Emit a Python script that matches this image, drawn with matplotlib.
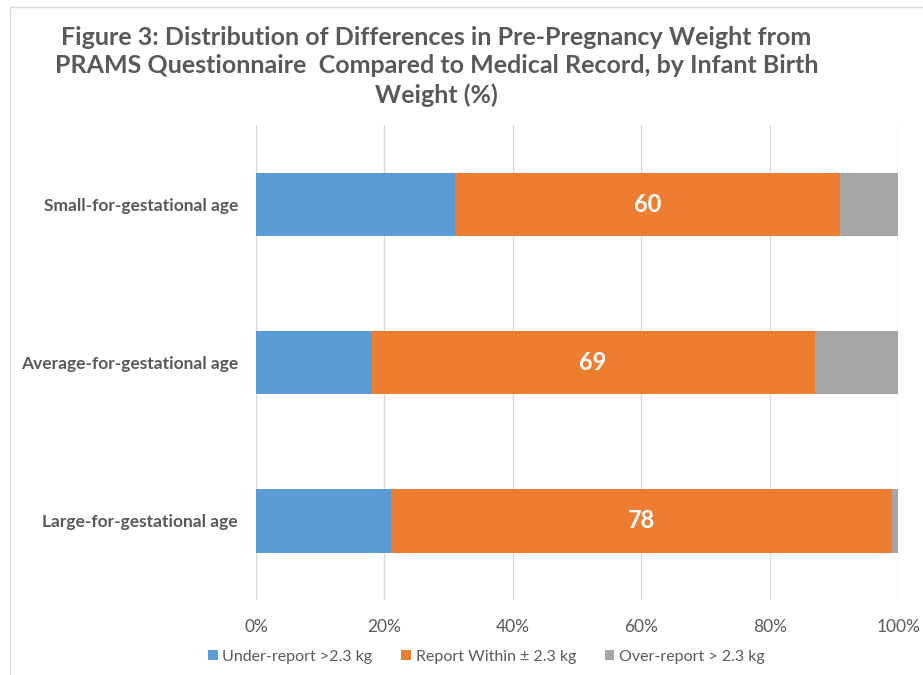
import matplotlib.pyplot as plt
from matplotlib.lines import Line2D

# Dados: distribuição (%) por peso ao nascer
categorias = ['Small-for-gestational age', 'Average-for-gestational age', 'Large-for-gestational age']
sub_relato = [31, 18, 21]
dentro = [60, 69, 78]
super_relato = [9, 13, 1]
series = ['Under-report >2.3 kg', 'Report Within \u00b1 2.3 kg', 'Over-report > 2.3 kg']
cores = ['#5B9BD5', '#ED7D31', '#A5A5A5']
ticks_x = [0, 20, 40, 60, 80, 100]

plt.rcParams['font.family'] = ['Lato', 'DejaVu Sans']
cinza = '#595959'

fig = plt.figure(figsize=(9.23, 6.75), dpi=100)
ax = fig.add_axes([0.2774, 0.1111, 0.6956, 0.7037])

y = range(len(categorias))
ax.barh(y, sub_relato, height=0.4, color=cores[0], label=series[0], zorder=3)
ax.barh(y, dentro, left=sub_relato, height=0.4, color=cores[1], label=series[1], zorder=3)
esq = [a + b for a, b in zip(sub_relato, dentro)]
ax.barh(y, super_relato, left=esq, height=0.4, color=cores[2], label=series[2], zorder=3)

# valor no meio da barra laranja
for i, v in enumerate(dentro):
    ax.text(sub_relato[i] + v / 2, i, str(v), ha='center', va='center',
            color='white', fontsize=17, fontweight='bold', zorder=4)

ax.set_xlim(0, 100)
ax.set_ylim(2.5, -0.5)
ax.set_xticks(ticks_x)
ax.set_xticklabels([f'{t}%' for t in ticks_x], fontsize=12.5, color=cinza)
ax.set_yticks(list(y))
ax.set_yticklabels(categorias, fontsize=12.5, fontweight='bold', color=cinza)
ax.tick_params(axis='both', length=0)
ax.tick_params(axis='y', pad=13)
ax.tick_params(axis='x', pad=14)
ax.grid(axis='x', color='#D9D9D9', linewidth=1, zorder=0)
for s in ax.spines.values():
    s.set_visible(False)

fig.suptitle('Figure 3: Distribution of Differences in Pre-Pregnancy Weight from\n'
             'PRAMS Questionnaire  Compared to Medical Record, by Infant Birth\n'
             'Weight (%)', x=0.473, y=0.962, fontsize=18, fontweight='bold',
             color=cinza, linespacing=1.3)

fig.legend(loc='center', bbox_to_anchor=(0.527, 0.027), ncol=3, frameon=False,
           fontsize=11.5, labelcolor=cinza, handlelength=0.6, handleheight=0.6,
           handletextpad=0.3, columnspacing=1.8)

# moldura do gráfico (esquerda e topo)
fig.add_artist(Line2D([10 / 923, 10 / 923], [0, 1 - 7 / 675], transform=fig.transFigure,
                      color='#D9D9D9', linewidth=1))
fig.add_artist(Line2D([10 / 923, 1], [1 - 7 / 675, 1 - 7 / 675], transform=fig.transFigure,
                      color='#D9D9D9', linewidth=1))

fig.savefig('out.png', dpi=100)
